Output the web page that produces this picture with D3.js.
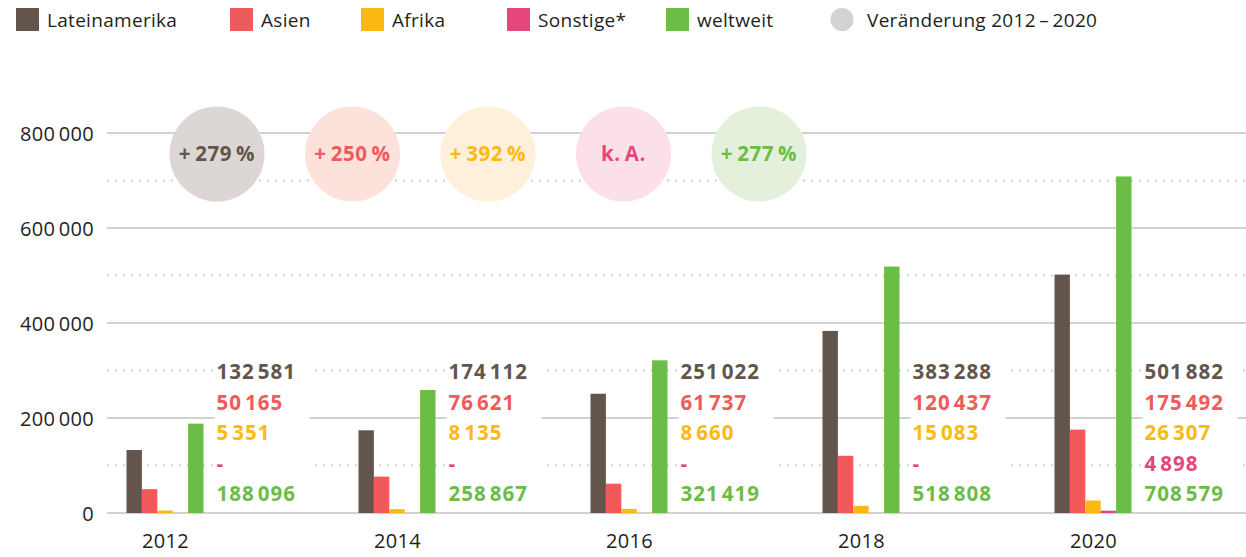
<!DOCTYPE html>
<html lang="de">
<head>
<meta charset="utf-8">
<script src="https://d3js.org/d3.v7.min.js"></script>
<style>
  body { margin: 0; background: #fff; }
  svg text { font-family: "Open Sans", "DejaVu Sans", sans-serif; }
</style>
</head>
<body>
<script>
// Data
var years = ["2012", "2014", "2016", "2018", "2020"];
var seriesNames = ["Lateinamerika", "Asien", "Afrika", "Sonstige*", "weltweit"];
var lateinamerika = [132581, 174112, 251022, 383288, 501882];
var asien = [50165, 76621, 61737, 120437, 175492];
var afrika = [5351, 8135, 8660, 15083, 26307];
var sonstige = [null, null, null, null, 4898];
var weltweit = [188096, 258867, 321419, 518808, 708579];
var changeLabels = ["+\u2009279\u2009%", "+\u2009250\u2009%", "+\u2009392\u2009%", "k.\u2009A.", "+\u2009277\u2009%"];
var yTicks = [0, 200000, 400000, 600000, 800000];
var yMinorTicks = [100000, 300000, 500000, 700000];

var colors = ["#63554b", "#f15a5a", "#fdb913", "#e6467e", "#6abd45"];
var softColors = ["#dcd7d4", "#fde1db", "#fef0da", "#fbe1e7", "#e4f0dc"];
var seriesValues = [lateinamerika, asien, afrika, sonstige, weltweit];

var w = 1246, h = 557;
var svg = d3.select("body").append("svg").attr("width", w).attr("height", h);

var fmt = function (v) { return d3.format(",")(v).replace(/,/g, "\u2009"); };
var fmtTight = function (v) { return d3.format(",")(v).replace(/,/g, "\u200A"); };

// scales
var y = d3.scaleLinear().domain([0, 800000]).range([513, 133]);
var x = d3.scalePoint().domain(years).range([165, 1093]);
var xs = d3.scaleBand().domain(seriesNames).range([-38.5, 38.5]);
var cx = d3.scalePoint().domain(seriesNames).range([217, 759]);

// grid lines
var grid = svg.append("g");
grid.selectAll("line.minor").data(yMinorTicks).enter().append("line")
  .attr("class", "minor")
  .attr("x1", 107).attr("x2", w)
  .attr("y1", function (d) { return y(d); }).attr("y2", function (d) { return y(d); })
  .attr("stroke", "#c4c4c4").attr("stroke-width", 2)
  .attr("stroke-dasharray", "1.6 6.4").attr("stroke-linecap", "butt");
grid.selectAll("line.major").data(yTicks).enter().append("line")
  .attr("class", "major")
  .attr("x1", 107).attr("x2", w)
  .attr("y1", function (d) { return y(d); }).attr("y2", function (d) { return y(d); })
  .attr("stroke", "#d2d2d2").attr("stroke-width", 2.2);

// y axis labels
var yAxis = d3.axisLeft(y).tickValues(yTicks).tickSize(0).tickPadding(0).tickFormat(fmt);
var ya = svg.append("g").attr("transform", "translate(94,0)").call(yAxis);
ya.select(".domain").remove();
ya.selectAll("text")
  .style("font-family", "'Open Sans', sans-serif")
  .attr("font-size", 20).attr("letter-spacing", 0.3)
  .attr("fill", "#231f20").attr("dy", "0.35em");

// x axis labels
var xAxis = d3.axisBottom(x).tickSize(0).tickPadding(0);
var xa = svg.append("g").attr("transform", "translate(0,534)").call(xAxis);
xa.select(".domain").remove();
xa.selectAll("text")
  .style("font-family", "'Open Sans', sans-serif")
  .attr("font-size", 20).attr("letter-spacing", 0.3)
  .attr("fill", "#231f20").attr("dy", "0.71em");

// white background behind value labels
svg.append("g").selectAll("rect").data(years).enter().append("rect")
  .attr("x", function (d) { return x(d) + 38.5 + 11; })
  .attr("y", 358)
  .attr("width", 95)
  .attr("height", 150)
  .attr("fill", "#fff");

// bars
var bars = svg.append("g");
seriesNames.forEach(function (s, si) {
  bars.selectAll("rect.s" + si)
    .data(years.map(function (yr, i) { return { year: yr, v: seriesValues[si][i] }; })
      .filter(function (d) { return d.v != null; }))
    .enter().append("rect")
    .attr("class", "s" + si)
    .attr("x", function (d) { return x(d.year) + xs(s); })
    .attr("width", xs.bandwidth())
    .attr("y", function (d) { return y(d.v); })
    .attr("height", function (d) { return y(0) - y(d.v); })
    .attr("fill", colors[si]);
});

// value labels
var labels = svg.append("g");
years.forEach(function (yr, i) {
  seriesNames.forEach(function (s, si) {
    var v = seriesValues[si][i];
    labels.append("text")
      .attr("x", x(yr) + 38.5 + 13)
      .attr("y", 379 + si * 30.5)
      .attr("font-size", 20.5)
      .attr("font-weight", 700)
      .attr("letter-spacing", 1)
      .attr("fill", colors[si])
      .text(v == null ? "-" : fmtTight(v));
  });
});

// change circles
var circ = svg.append("g");
circ.selectAll("circle").data(seriesNames).enter().append("circle")
  .attr("cx", function (d) { return cx(d); })
  .attr("cy", 154)
  .attr("r", 47.5)
  .attr("fill", function (d, i) { return softColors[i]; });
circ.selectAll("text").data(seriesNames).enter().append("text")
  .attr("x", function (d) { return cx(d); })
  .attr("y", 161)
  .attr("text-anchor", "middle")
  .attr("font-size", 20.5)
  .attr("font-weight", 700)
  .attr("letter-spacing", 0.6)
  .attr("fill", function (d, i) { return colors[i]; })
  .text(function (d, i) { return changeLabels[i]; });

// legend
var legendX = [16, 230, 361, 507, 666];
var legend = svg.append("g");
seriesNames.forEach(function (s, i) {
  legend.append("rect")
    .attr("x", legendX[i]).attr("y", 8)
    .attr("width", 23).attr("height", 23)
    .attr("fill", colors[i]);
  legend.append("text")
    .attr("x", legendX[i] + 31).attr("y", 27)
    .attr("font-size", 19).attr("letter-spacing", 0.3).attr("fill", "#231f20")
    .text(s);
});
legend.append("circle").attr("cx", 842).attr("cy", 19.5).attr("r", 11.5).attr("fill", "#d3d3d5");
legend.append("text")
  .attr("x", 867).attr("y", 27)
  .attr("font-size", 19).attr("letter-spacing", 0.3).attr("fill", "#231f20")
  .text("Veränderung 2012\u2009\u2013\u20092020");
</script>
</body>
</html>
